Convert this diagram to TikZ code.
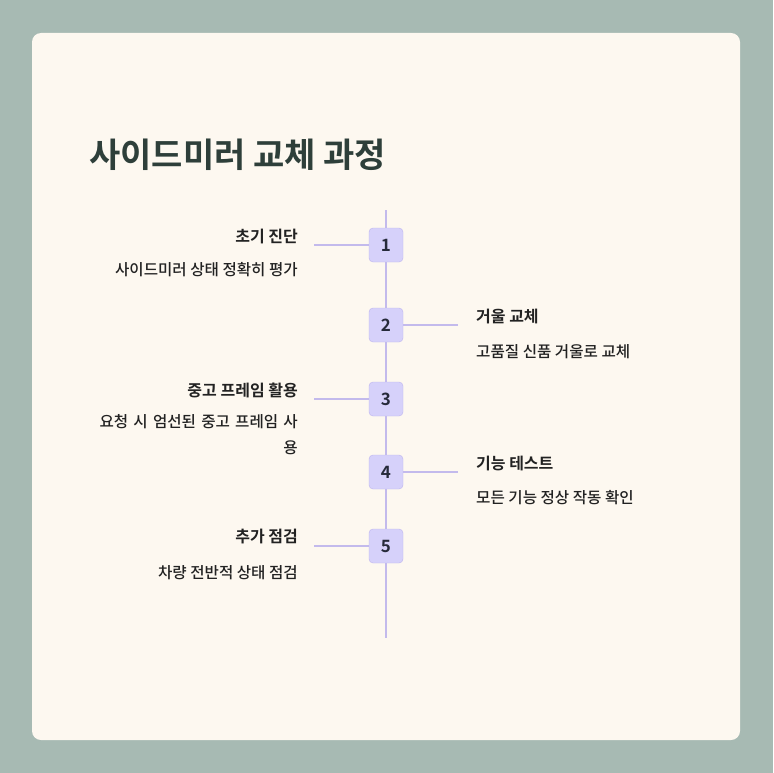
\documentclass[tikz,border=0pt]{standalone}
\usepackage{fontspec}
\setmainfont{Noto Sans CJK KR Medium}
\newfontfamily\kb{Noto Sans CJK KR Bold}
\begin{document}
\begin{tikzpicture}[x=1pt,y=-1pt,
  numbox/.style={draw=boxline,fill=boxfill,rounded corners=4pt,minimum size=34pt,inner sep=0pt,font=\kb\fontsize{17}{17}\selectfont,text=numtxt},
  conn/.style={draw=lineC,line width=1.3pt},
  ttl/.style={font=\kb\fontsize{16}{19}\selectfont,text=darktxt,inner sep=0pt},
  dsc/.style={font=\fontsize{15.6}{26}\selectfont,text=darktxt,inner sep=0pt}]
\definecolor{bg}{HTML}{A7BAB3}
\definecolor{card}{HTML}{FDF8F0}
\definecolor{boxfill}{HTML}{D6D1FA}
\definecolor{boxline}{HTML}{BDB4EE}
\definecolor{lineC}{HTML}{C3BAEC}
\definecolor{numtxt}{HTML}{262A3A}
\definecolor{darktxt}{HTML}{222222}
\definecolor{titletxt}{HTML}{2E3F3A}
\fill[bg] (0,0) rectangle (773,773);
\useasboundingbox (0,0) rectangle (773,773);
\fill[card,rounded corners=9pt] (32,33) rectangle (740,740);
\node[anchor=west,inner sep=0pt,font=\kb\fontsize{34}{34}\selectfont,text=titletxt] (title) at (89,155) {사이드미러 교체 과정};
\coordinate (top) at (386,210);
\coordinate (bot) at (386,638);
\draw[conn] (top) -- (bot);
\coordinate (l1) at (314,245);
\coordinate (r2) at (458,325);
\coordinate (l3) at (314,399);
\coordinate (r4) at (458,472);
\coordinate (l5) at (314,546);
\draw[conn] (l1) -- (386,245);
\draw[conn] (r2) -- (386,325);
\draw[conn] (l3) -- (386,399);
\draw[conn] (r4) -- (386,472);
\draw[conn] (l5) -- (386,546);
\node[numbox] (n1) at (386,245) {1};
\node[numbox] (n2) at (386,325) {2};
\node[numbox] (n3) at (386,399) {3};
\node[numbox] (n4) at (386,472) {4};
\node[numbox] (n5) at (386,546) {5};
\node[ttl,anchor=east] (t1) at (298,236) {초기 진단};
\node[dsc,anchor=east] (d1) at (298,270) {사이드미러 상태 정확히 평가};
\node[ttl,anchor=west] (t2) at (476,317) {거울 교체};
\node[dsc,anchor=west] (d2) at (476,352) {고품질 신품 거울로 교체};
\node[ttl,anchor=east] (t3) at (298,390) {중고 프레임 활용};
\node[dsc,anchor=north east,align=right,text width=260pt] (d3) at (298,414) {요청 시 엄선된 중고 프레임 사\\용};
\node[ttl,anchor=west] (t4) at (476,463) {기능 테스트};
\node[dsc,anchor=west] (d4) at (476,498) {모든 기능 정상 작동 확인};
\node[ttl,anchor=east] (t5) at (298,537) {추가 점검};
\node[dsc,anchor=east] (d5) at (298,573) {차량 전반적 상태 점검};
\end{tikzpicture}
\end{document}
